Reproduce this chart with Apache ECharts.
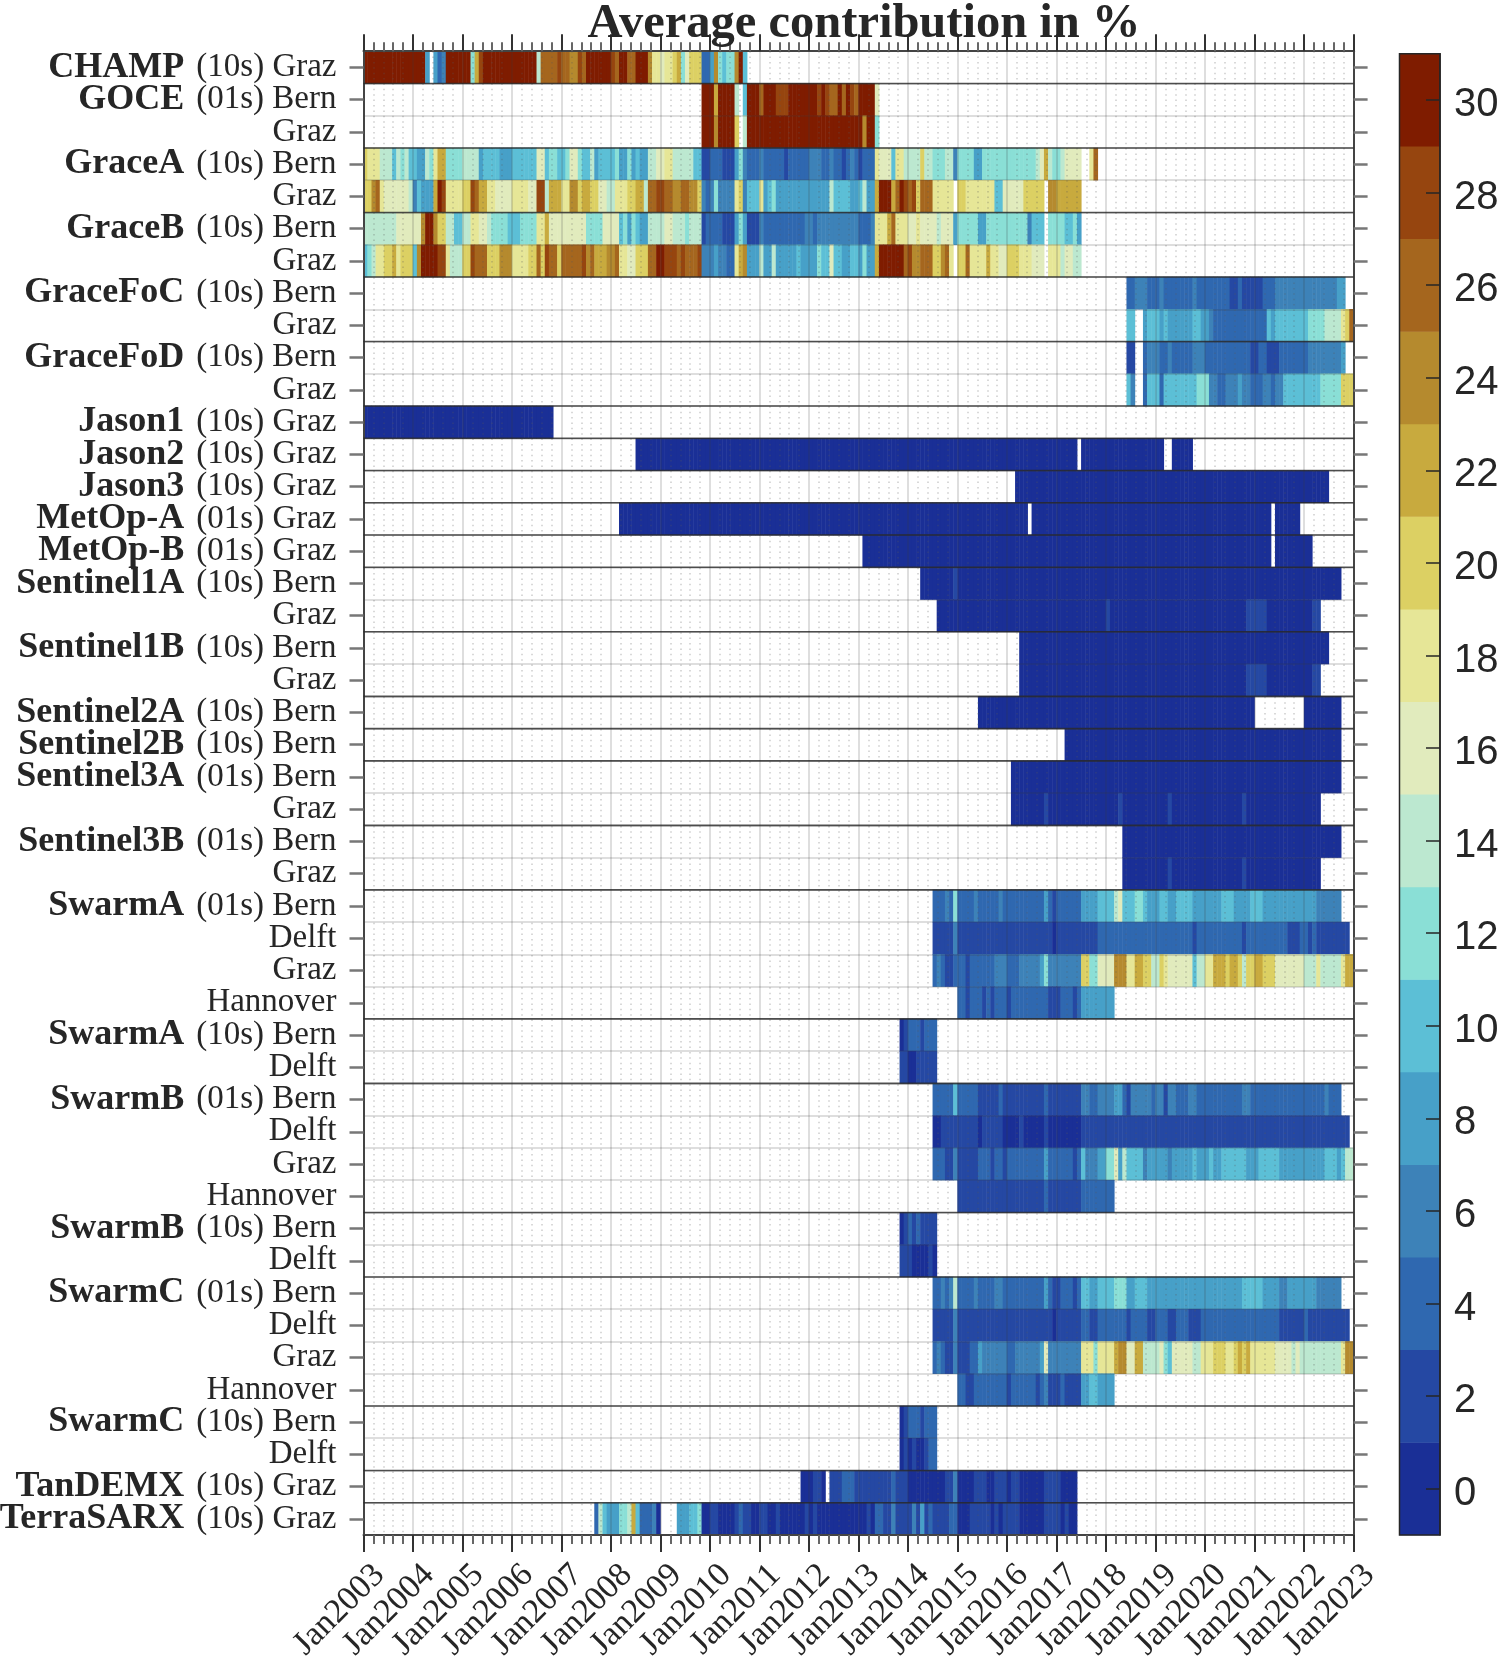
<!DOCTYPE html>
<html><head><meta charset="utf-8">
<style>html,body{margin:0;padding:0;background:#fff}#c{width:1500px;height:1657px}</style>
<script src="https://cdn.jsdelivr.net/npm/echarts@6/dist/echarts.min.js"></script>
</head><body><div id="c"></div>
<script>
// Each row: change-points [month index since Jan2003, value, month, value, ...]; null = no data.
const CHAMP_Graz=[0,30,15,8,16,null,17,8,18,4,19,6,20,30,26,12,27,22,28,28,29,30,42,14,43,26,47,28,48,26,50,24,52,28,53,26,54,30,60,28,61,26,62,30,64,26,66,30,69,24,70,18,72,16,73,18,75,20,76,22,77,12,78,16,79,20,82,4,84,8,85,24,86,12,87,10,88,12,90,24,91,30,92,10,93,null];
const GOCE_Bern=[82,30,85,22,86,30,90,14,91,null,92,10,93,30,96,26,97,30,100,28,103,30,110,28,111,30,112,28,113,26,115,30,116,26,117,30,118,28,119,26,120,30,124,16,125,null];
const GOCE_Graz=[82,30,85,24,86,30,90,20,91,null,92,14,93,30,121,24,122,30,124,12,125,null];
const GraceA_Bern=[0,20,1,18,4,14,7,10,8,14,9,12,10,14,11,10,13,8,15,14,16,12,17,18,18,22,20,12,24,14,28,8,29,10,33,8,36,10,42,16,44,10,45,12,47,10,49,12,50,16,52,12,53,10,55,14,56,8,57,10,61,12,62,8,64,12,65,8,66,10,67,8,69,14,71,16,73,18,75,14,79,14,80,10,82,2,84,4,87,2,90,8,91,12,92,6,93,4,96,6,97,4,102,2,103,4,108,6,111,4,113,6,114,4,116,2,117,4,118,6,119,4,120,2,121,4,124,18,125,16,128,10,129,18,131,14,135,20,136,14,138,12,141,14,143,6,144,12,148,8,150,12,163,14,164,16,165,22,166,14,167,12,169,14,170,16,174,null,176,18,177,26,178,null];
const GraceA_Graz=[0,20,2,24,3,26,4,18,5,16,11,14,12,6,13,10,14,8,17,22,18,30,19,28,20,18,24,20,26,28,27,26,28,22,30,18,32,16,36,18,40,16,42,28,44,14,45,22,48,18,50,24,52,20,53,22,55,20,57,16,59,14,61,18,64,20,66,22,68,14,69,26,71,28,73,26,75,24,77,26,79,24,81,20,82,6,83,4,84,6,85,12,86,6,90,18,91,20,92,6,93,10,96,18,97,8,98,10,99,12,100,8,113,14,114,10,118,8,120,10,121,14,122,8,124,22,125,30,128,22,129,26,130,30,131,28,132,26,133,28,134,20,135,26,138,18,143,null,144,20,146,18,153,10,155,16,160,20,165,null,166,24,168,22,174,null];
const GraceB_Bern=[0,14,8,16,14,24,15,30,17,24,18,20,20,14,22,10,24,14,26,18,28,16,30,14,31,12,35,10,38,12,42,18,44,22,45,16,54,12,58,16,62,10,63,12,64,8,65,12,66,10,67,8,69,14,73,16,75,14,78,12,79,14,82,2,83,4,87,2,90,8,91,12,92,8,93,2,96,6,97,4,107,6,109,4,110,6,120,4,123,6,124,18,127,22,128,26,129,18,132,16,134,18,135,16,139,14,140,16,143,8,144,12,149,8,151,12,161,6,162,10,165,null,166,12,170,10,172,12,173,8,174,null];
const GraceB_Graz=[0,10,1,12,2,14,3,18,5,20,7,22,8,18,9,20,12,10,13,24,14,30,18,28,20,18,21,14,24,20,26,28,27,26,30,20,33,24,36,18,40,20,42,26,43,20,44,28,45,26,47,20,48,26,53,28,54,24,55,26,56,22,59,24,61,26,62,18,64,16,66,20,69,26,71,30,73,28,76,26,77,28,78,26,81,28,82,6,85,8,86,6,88,4,90,18,91,22,92,24,93,8,96,14,97,8,99,14,100,8,105,10,106,8,110,12,111,10,113,16,114,10,116,8,118,10,120,8,121,12,122,8,124,22,125,30,131,26,132,28,133,24,135,26,138,20,140,24,141,26,142,18,143,null,144,20,146,26,147,18,151,22,152,18,154,16,156,20,159,18,162,16,165,null,166,18,169,14,170,16,172,14,174,null];
const GraceFoC_Bern=[185,4,187,6,190,4,193,6,194,4,201,6,202,4,210,2,212,4,213,2,218,4,221,6,236,8,238,null];
const GraceFoC_Graz=[185,10,187,null,189,8,190,10,193,8,194,10,195,8,201,10,203,8,205,6,206,4,219,10,220,8,221,10,229,12,233,14,237,18,238,20,239,26];
const GraceFoD_Bern=[185,2,187,null,189,4,190,6,193,4,195,6,196,4,201,6,204,4,215,2,217,4,219,2,222,4,229,6,237,8,238,null];
const GraceFoD_Graz=[185,10,186,6,187,null,189,4,190,10,193,4,194,10,202,12,205,6,207,4,209,6,212,8,213,6,215,4,218,6,220,4,221,6,223,10,232,12,237,20];
const Jason1_Graz=[0,0,46,null];
const Jason2_Graz=[66,0,173,null,174,0,194,null,196,0,201,null];
const Jason3_Graz=[158,0,234,null];
const MetOpA_Graz=[62,0,161,null,162,0,220,null,221,0,227,null];
const MetOpB_Graz=[121,0,220,null,221,0,230,null];
const S1A_Bern=[135,0,143,2,144,0,237,null];
const S1A_Graz=[139,0,180,2,181,0,214,2,219,0,230,2,232,null];
const S1B_Bern=[159,0,234,null];
const S1B_Graz=[159,0,214,2,219,0,230,2,232,null];
const S2A_Bern=[149,0,216,null,228,0,237,null];
const S2B_Bern=[170,0,237,null];
const S3A_Bern=[157,0,237,null];
const S3A_Graz=[157,0,165,2,166,0,183,2,184,0,195,2,196,0,213,2,214,0,232,null];
const S3B_Bern=[184,0,237,null];
const S3B_Graz=[184,0,195,2,196,0,213,2,214,0,232,null];
const SwA01_Bern=[138,4,141,6,142,4,143,12,144,4,148,6,149,4,154,6,155,4,165,8,166,4,167,2,168,4,174,8,178,10,182,14,183,16,184,10,187,12,189,10,190,8,193,10,195,8,197,10,201,8,208,10,211,8,215,10,218,8,231,6,237,null];
const SwA01_Delft=[138,2,143,6,144,2,167,0,168,2,178,4,201,2,202,4,213,2,214,4,224,2,227,4,229,2,230,4,231,2,239,null];
const SwA01_Graz=[138,4,139,6,140,4,141,2,143,4,146,2,147,4,153,6,156,4,159,6,164,8,165,12,166,6,174,20,176,12,178,16,182,24,185,18,187,22,189,20,191,14,193,20,194,18,195,16,201,10,202,14,204,18,206,22,209,20,210,22,212,20,213,14,214,20,216,22,218,20,221,16,228,14,231,18,232,14,237,18,238,22];
const SwA01_Hann=[144,4,146,2,147,4,150,2,151,4,152,2,153,4,156,2,157,4,166,2,169,4,172,2,173,4,174,8,182,null];
const SwA10_Bern=[130,0,131,2,132,4,135,2,136,4,139,null];
const SwA10_Delft=[130,2,132,0,134,2,139,null];
const SwB01_Bern=[138,4,143,10,144,4,149,2,154,4,155,2,165,4,166,2,174,6,176,4,178,6,182,8,184,4,185,2,186,6,191,4,192,6,194,2,195,6,197,4,200,6,202,4,213,6,215,4,233,6,234,4,237,null];
const SwB01_Delft=[138,0,140,2,149,0,150,2,155,0,159,2,160,0,165,2,166,0,174,2,239,null];
const SwB01_Graz=[138,4,141,2,143,6,144,2,149,4,152,2,153,4,155,2,156,4,165,8,166,4,172,2,173,4,174,10,175,6,178,8,180,12,182,16,183,8,184,14,185,10,189,6,190,8,195,6,196,8,201,10,202,8,205,10,206,8,208,10,214,8,217,10,222,8,233,10,236,8,237,10,238,14];
const SwB01_Hann=[144,2,165,4,166,2,174,4,182,null];
const SwB10_Bern=[130,0,131,2,132,4,133,2,134,4,135,2,139,null];
const SwB10_Delft=[130,2,133,0,137,2,138,0,139,null];
const SwC01_Bern=[138,4,140,6,141,4,142,6,143,14,144,4,148,6,149,4,153,6,155,4,165,8,166,4,167,2,169,4,172,2,173,4,174,10,176,8,178,10,182,12,185,8,187,10,190,8,213,10,218,8,222,6,224,8,231,6,237,null];
const SwC01_Delft=[138,2,143,6,144,2,167,0,168,2,174,4,176,2,178,4,185,2,186,4,190,2,192,4,195,2,197,4,200,2,203,4,222,2,228,4,229,2,239,null];
const SwC01_Graz=[138,4,139,6,140,4,141,2,143,6,144,2,147,4,149,8,150,6,156,4,158,6,164,8,165,16,166,6,174,18,177,12,178,18,182,22,183,24,185,16,187,22,189,14,193,16,194,12,195,10,196,16,201,14,203,18,206,20,209,18,211,20,212,22,213,20,214,22,215,18,221,16,225,14,226,16,227,14,237,18,238,24];
const SwC01_Hann=[144,4,146,2,148,4,156,2,157,4,163,2,164,4,165,6,166,2,169,4,170,2,174,8,176,10,178,8,182,null];
const SwC10_Bern=[130,0,131,2,132,4,135,2,136,4,139,null];
const SwC10_Delft=[130,0,131,2,132,0,133,2,134,0,136,2,137,4,139,null];
const TanDEMX_Graz=[106,0,109,2,111,0,112,null,113,2,116,4,119,2,128,4,129,2,132,0,141,2,143,6,144,0,148,2,151,0,153,2,156,0,157,2,159,0,165,2,169,0,173,null];
const TerraSARX_Graz=[56,4,57,14,58,10,59,8,62,12,64,14,65,22,66,10,67,4,70,6,71,0,72,null,76,8,79,10,81,12,82,0,84,2,86,0,90,2,91,4,92,2,94,0,96,2,98,0,100,2,101,0,107,2,108,0,109,2,110,0,122,2,123,0,124,4,126,2,128,6,129,2,133,6,134,2,135,8,136,2,137,4,138,2,142,4,144,0,147,2,152,0,153,2,154,0,155,2,159,0,165,2,169,0,170,2,171,0,173,null];

// Row labels, in plot order (top to bottom)
const rowLabels=['{b|CHAMP}{r|(10s) Graz}','{b|GOCE}{r|(01s) Bern}','{r|Graz}','{b|GraceA}{r|(10s) Bern}','{r|Graz}','{b|GraceB}{r|(10s) Bern}','{r|Graz}','{b|GraceFoC}{r|(10s) Bern}','{r|Graz}','{b|GraceFoD}{r|(10s) Bern}','{r|Graz}','{b|Jason1}{r|(10s) Graz}','{b|Jason2}{r|(10s) Graz}','{b|Jason3}{r|(10s) Graz}','{b|MetOp-A}{r|(01s) Graz}','{b|MetOp-B}{r|(01s) Graz}','{b|Sentinel1A}{r|(10s) Bern}','{r|Graz}','{b|Sentinel1B}{r|(10s) Bern}','{r|Graz}','{b|Sentinel2A}{r|(10s) Bern}','{b|Sentinel2B}{r|(10s) Bern}','{b|Sentinel3A}{r|(01s) Bern}','{r|Graz}','{b|Sentinel3B}{r|(01s) Bern}','{r|Graz}','{b|SwarmA}{r|(01s) Bern}','{r|Delft}','{r|Graz}','{r|Hannover}','{b|SwarmA}{r|(10s) Bern}','{r|Delft}','{b|SwarmB}{r|(01s) Bern}','{r|Delft}','{r|Graz}','{r|Hannover}','{b|SwarmB}{r|(10s) Bern}','{r|Delft}','{b|SwarmC}{r|(01s) Bern}','{r|Delft}','{r|Graz}','{r|Hannover}','{b|SwarmC}{r|(10s) Bern}','{r|Delft}','{b|TanDEMX}{r|(10s) Graz}','{b|TerraSARX}{r|(10s) Graz}'];
const rowValues=[CHAMP_Graz,GOCE_Bern,GOCE_Graz,GraceA_Bern,GraceA_Graz,GraceB_Bern,GraceB_Graz,GraceFoC_Bern,GraceFoC_Graz,GraceFoD_Bern,GraceFoD_Graz,Jason1_Graz,Jason2_Graz,Jason3_Graz,MetOpA_Graz,MetOpB_Graz,S1A_Bern,S1A_Graz,S1B_Bern,S1B_Graz,S2A_Bern,S2B_Bern,S3A_Bern,S3A_Graz,S3B_Bern,S3B_Graz,SwA01_Bern,SwA01_Delft,SwA01_Graz,SwA01_Hann,SwA10_Bern,SwA10_Delft,SwB01_Bern,SwB01_Delft,SwB01_Graz,SwB01_Hann,SwB10_Bern,SwB10_Delft,SwC01_Bern,SwC01_Delft,SwC01_Graz,SwC01_Hann,SwC10_Bern,SwC10_Delft,TanDEMX_Graz,TerraSARX_Graz];
// Number of rows in each satellite group (separator lines)
const groupSizes=[1,2,2,2,2,2,1,1,1,1,1,2,2,1,1,2,2,4,2,4,2,4,2,1,1];
const bandValues=[0,2,4,6,8,10,12,14,16,18,20,22,24,26,28,30];
const bandColors=['#1a2f96','#2548a3','#2f68b0','#3d82b8','#47a0c8','#5cbfd6','#8adfd6','#bce8d0','#e1ebbd','#e6e697','#dcd063','#c8aa3e','#b58a2e','#a5661e','#96450f','#7f1c00'];

const MONTHS=240,Y0=2003,Y1=2023,ROWS=rowValues.length;
const months=Array.from({length:MONTHS},(_,i)=>i);
const cells=[];
rowValues.forEach((cp,r)=>{
  for(let i=0;i<cp.length;i+=2){
    const end=i+2<cp.length?cp[i+2]:MONTHS;
    if(cp[i+1]===null)continue;
    for(let m=cp[i];m<end;m++)cells.push([m,r,cp[i+1]]);
  }
});
const bounds=[];let acc=0;
groupSizes.forEach(n=>{acc+=n;if(acc<ROWS)bounds.push(acc+0.5);});

const INK='#262626',SER='Liberation Serif';
const GL={left:363.5,top:51.2,width:990.1,height:1483.8};
const CB={left:1399.5,top:53.7,width:40.5,height:1481.3};
const chart=echarts.init(document.getElementById('c'),null,{renderer:'canvas'});
chart.setOption({
  animation:false,backgroundColor:'#fff',
  title:{text:'Average contribution in %',left:859,top:-5,textAlign:'center',textStyle:{fontFamily:SER,fontWeight:'bold',fontSize:48.5,color:INK}},
  visualMap:{type:'piecewise',show:false,seriesIndex:[0,1],dimension:2,pieces:bandValues.map((v,i)=>({min:v-1,max:v+1,color:bandColors[i]}))},
  grid:[{...GL,containLabel:false,outerBoundsMode:'none'},{...CB,outerBoundsMode:'none',show:true,borderColor:'#262626',borderWidth:1.5,backgroundColor:'transparent',z:8}],
  xAxis:[
    {type:'category',data:months,gridIndex:0,show:false},
    {type:'value',gridIndex:0,position:'bottom',min:Y0,max:Y1,interval:1,z:6,
      axisLine:{show:true,onZero:false,lineStyle:{color:'#444',width:2}},
      axisTick:{show:true,length:17,lineStyle:{color:'#333',width:2}},
      minorTick:{show:true,splitNumber:5,length:9,lineStyle:{color:'#666',width:2}},
      splitLine:{show:true,lineStyle:{color:'rgba(60,60,60,0.17)',width:2}},
      minorSplitLine:{show:true,lineStyle:{color:'rgba(90,90,90,0.3)',width:1.5,type:[1.5,3.88]}},
      axisLabel:{show:true,rotate:45,margin:19,interval:0,hideOverlap:false,showMinLabel:true,showMaxLabel:true,formatter:v=>'{t|Jan'+v+'}',
        rich:{t:{fontFamily:SER,fontSize:34,color:INK,padding:[45,0,0,0]}}}},
    {type:'value',gridIndex:0,position:'top',min:Y0,max:Y1,interval:1,z:6,
      axisLine:{show:true,onZero:false,lineStyle:{color:'#444',width:2}},
      axisTick:{show:true,length:17,lineStyle:{color:'#333',width:2}},
      minorTick:{show:true,splitNumber:5,length:9,lineStyle:{color:'#666',width:2}},
      splitLine:{show:false},axisLabel:{show:false}},
    {type:'category',data:['c'],gridIndex:1,show:false}
  ],
  yAxis:[
    {type:'category',gridIndex:0,inverse:true,position:'left',data:rowLabels,z:6,
      axisLine:{show:true,onZero:false,lineStyle:{color:'#444',width:2}},
      axisTick:{show:true,alignWithLabel:true,length:14,lineStyle:{color:'#777',width:2.5}},
      splitLine:{show:false},
      axisLabel:{show:true,interval:0,margin:27,formatter:s=>s,rich:{
        b:{fontFamily:SER,fontWeight:'bold',fontSize:36,color:INK,padding:[0,12,0,0]},
        r:{fontFamily:SER,fontSize:33,color:INK}}}},
    {type:'category',gridIndex:0,inverse:true,position:'right',data:rowLabels,z:6,
      axisLine:{show:true,onZero:false,lineStyle:{color:'#444',width:2}},
      axisTick:{show:true,alignWithLabel:true,length:14,lineStyle:{color:'#777',width:2.5}},
      splitLine:{show:false},axisLabel:{show:false}},
    {type:'value',gridIndex:0,inverse:true,min:0.5,max:ROWS+0.5,interval:1,z:6,
      axisLine:{show:false},axisTick:{show:false},axisLabel:{show:false},
      splitLine:{show:true,lineStyle:{color:'rgba(60,60,60,0.17)',width:2}}},
    {type:'category',gridIndex:1,position:'right',data:bandValues,z:9,
      axisLine:{show:true,lineStyle:{color:'#262626',width:1.5}},
      axisTick:{show:true,alignWithLabel:true,inside:true,length:14,lineStyle:{color:'#262626',width:1.5}},
      axisLabel:{show:true,interval:0,margin:14,formatter:v=>'{n|'+v+'}',
        rich:{n:{fontFamily:'Liberation Sans',fontSize:40,color:INK,padding:[10,0,0,0]}}}}
  ],
  series:[
    {type:'heatmap',name:'Average contribution',xAxisIndex:0,yAxisIndex:0,data:cells,progressive:0,z:2,emphasis:{disabled:true}},
    {type:'heatmap',name:'Colour bar',xAxisIndex:3,yAxisIndex:3,data:bandValues.map((v,i)=>[0,i,v]),progressive:0,z:2,emphasis:{disabled:true}},
    {type:'custom',name:'Group separators',xAxisIndex:1,yAxisIndex:2,data:bounds,z:7,silent:true,encode:{y:0},
      renderItem:(p,api)=>{
        const b=api.value(0),a=api.coord([Y0,b]),c=api.coord([Y1,b]);
        return {type:'line',shape:{x1:a[0],y1:a[1],x2:c[0],y2:c[1]},style:{stroke:'rgba(40,40,40,0.8)',lineWidth:1.6}};
      }}
  ]
});
</script></body></html>
